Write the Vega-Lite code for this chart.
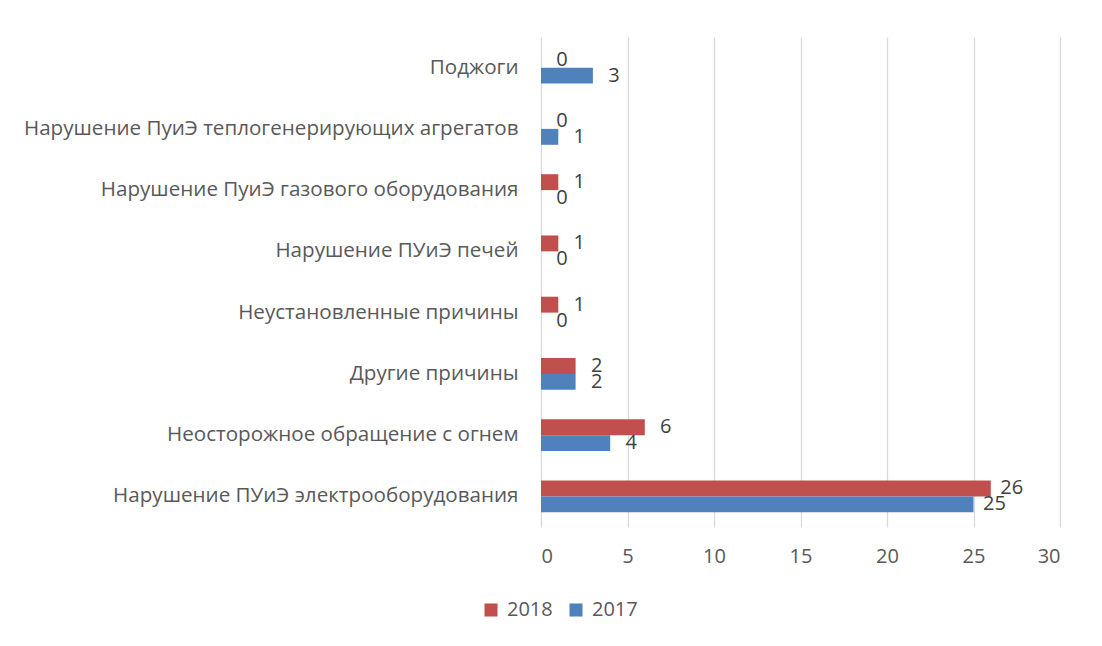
{
  "$schema": "https://vega.github.io/schema/vega-lite/v6.json",
  "autosize": {"type": "none"},
  "width": 519,
  "height": 490,
  "padding": {"left": 541, "top": 37, "right": 42, "bottom": 119},
  "background": "white",
  "config": {
    "view": {"stroke": null},
    "font": "Open Sans"
  },
  "data": {
    "values": [
      {"cause": "Поджоги", "year": "2018", "value": 0},
      {"cause": "Поджоги", "year": "2017", "value": 3},
      {"cause": "Нарушение ПуиЭ теплогенерирующих агрегатов", "year": "2018", "value": 0},
      {"cause": "Нарушение ПуиЭ теплогенерирующих агрегатов", "year": "2017", "value": 1},
      {"cause": "Нарушение ПуиЭ газового оборудования", "year": "2018", "value": 1},
      {"cause": "Нарушение ПуиЭ газового оборудования", "year": "2017", "value": 0},
      {"cause": "Нарушение ПУиЭ печей", "year": "2018", "value": 1},
      {"cause": "Нарушение ПУиЭ печей", "year": "2017", "value": 0},
      {"cause": "Неустановленные причины", "year": "2018", "value": 1},
      {"cause": "Неустановленные причины", "year": "2017", "value": 0},
      {"cause": "Другие причины", "year": "2018", "value": 2},
      {"cause": "Другие причины", "year": "2017", "value": 2},
      {"cause": "Неосторожное обращение с огнем", "year": "2018", "value": 6},
      {"cause": "Неосторожное обращение с огнем", "year": "2017", "value": 4},
      {"cause": "Нарушение ПУиЭ электрооборудования", "year": "2018", "value": 26},
      {"cause": "Нарушение ПУиЭ электрооборудования", "year": "2017", "value": 25}
    ]
  },
  "encoding": {
    "y": {
      "field": "cause",
      "type": "nominal",
      "sort": null,
      "title": null,
      "scale": {"paddingInner": 0.48, "paddingOuter": 0.24},
      "axis": {
        "domain": false,
        "ticks": false,
        "labelPadding": 23,
        "labelFontSize": 20.6,
        "labelColor": "#595959",
        "labelLimit": 600
      }
    },
    "yOffset": {"field": "year", "type": "nominal", "sort": ["2018", "2017"], "scale": {"paddingInner": 0}},
    "x": {
      "field": "value",
      "type": "quantitative",
      "title": null,
      "scale": {"domain": [0, 30]},
      "axis": {
        "values": [0, 5, 10, 15, 20, 25, 30],
        "domain": false,
        "ticks": false,
        "grid": true,
        "gridColor": "#D9D9D9",
        "gridWidth": 1.3,
        "labelPadding": 19,
        "labelFontSize": 20,
        "labelColor": "#595959"
      }
    }
  },
  "layer": [
    {
      "mark": {"type": "bar"},
      "encoding": {
        "color": {
          "field": "year",
          "type": "nominal",
          "scale": {"domain": ["2018", "2017"], "range": ["#C0504D", "#4F81BD"]},
          "legend": {
            "title": null,
            "orient": "none",
            "direction": "horizontal",
            "legendX": -60,
            "legendY": 563,
            "symbolType": "square",
            "symbolSize": 170,
            "symbolStrokeWidth": 0,
            "labelFontSize": 20,
            "labelColor": "#595959",
            "columnPadding": 13,
            "labelOffset": 6
          }
        }
      }
    },
    {
      "mark": {"type": "text", "align": "center", "baseline": "middle", "dx": 21, "fontSize": 20, "color": "#404040"},
      "encoding": {
        "text": {"field": "value", "type": "quantitative"}
      }
    }
  ]
}
